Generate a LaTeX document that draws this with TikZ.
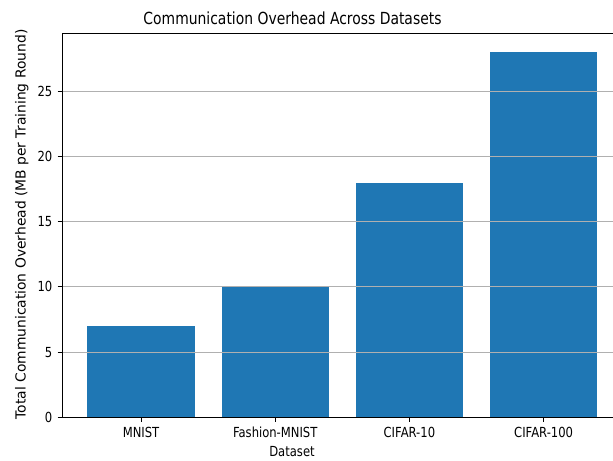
\documentclass[tikz,border=0pt]{standalone}
\usepackage{fontspec}
\setmainfont{DejaVu Sans}
\newfontfamily\narrowfont[FakeStretch=0.835]{DejaVu Sans}
\definecolor{barblue}{HTML}{1F77B4}
\definecolor{gridgray}{HTML}{B0B0B0}
\tikzset{
  bar/.style={fill=barblue, draw=none},
  gridline/.style={draw=gridgray, line width=0.7pt},
  spine/.style={draw=black, line width=0.75pt},
  tickmark/.style={draw=black, line width=0.7pt},
  ticklabel/.style={font=\narrowfont\fontsize{10.4}{12}\selectfont, inner sep=0pt},
  axlabel/.style={font=\narrowfont\fontsize{10.4}{12}\selectfont, inner sep=0pt},
  ylabelstyle/.style={font=\fontsize{10.4}{12}\selectfont, inner sep=0pt},
  titlelabel/.style={font=\narrowfont\fontsize{12.5}{14}\selectfont, inner sep=0pt},
}
\begin{document}
\begin{tikzpicture}[x=0.75pt,y=-0.75pt]
\useasboundingbox (0,0) rectangle (613,460);
\begin{scope}
\clip (0,0) rectangle (613,460);
% bars
\foreach \c/\v in {141/7, 275.2/10, 409.4/18, 543.6/28}{
  \path[bar] (\c-53.7,417.3) rectangle (\c+53.7,417.3-13.04*\v);
}
% grid
\foreach \v in {5,10,15,20,25}{
  \draw[gridline] (62,417.3-13.04*\v) -- (613,417.3-13.04*\v);
}
% spines
\draw[spine] (613,33.3) -- (62,33.3) -- (62,417.3) -- (613,417.3);
\end{scope}
% y ticks
\foreach \v in {0,5,10,15,20,25}{
  \draw[tickmark] (57.6,417.3-13.04*\v) -- (62,417.3-13.04*\v);
  \node[ticklabel, anchor=east] (yt\v) at (52.5,417.3-13.04*\v) {\v};
}
% x ticks
\foreach \c/\n/\t in {141/a/MNIST, 275.2/b/Fashion-MNIST, 409.4/c/CIFAR-10, 543.6/d/CIFAR-100}{
  \draw[tickmark] (\c,417.3) -- (\c,421.7);
  \node[ticklabel, anchor=base] (xt\n) at (\c,437) {\t};
}
\node[axlabel, anchor=base] (xlab) at (292,456.7) {Dataset};
\node[ylabelstyle, anchor=base, rotate=90] (ylab) at (25.5,224.5) {Total Communication Overhead (MB per Training Round)};
\node[titlelabel, anchor=base] (title) at (292.5,25) {Communication Overhead Across Datasets};
\end{tikzpicture}
\end{document}
